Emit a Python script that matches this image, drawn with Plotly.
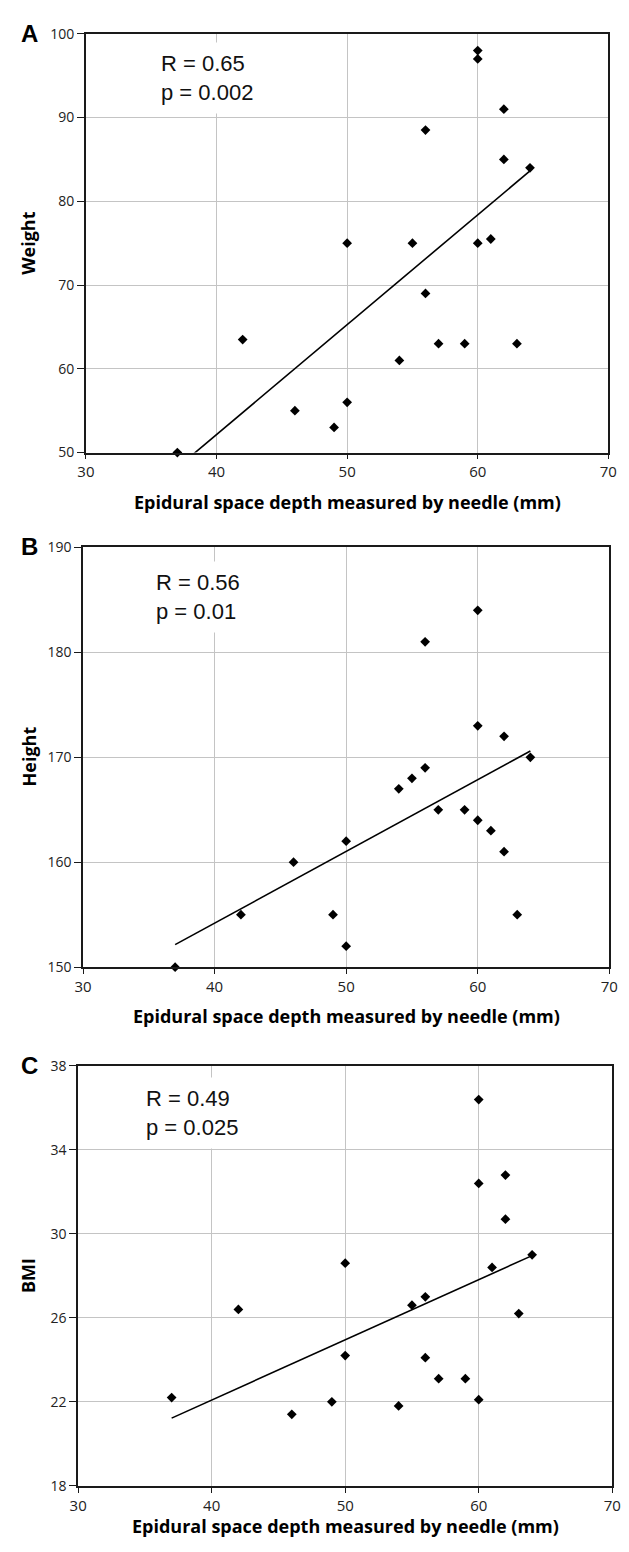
import numpy as np
import plotly.graph_objects as go

# ---------------- data ----------------
depth_mm = [37, 42, 46, 49, 50, 50, 54, 55, 56, 56, 57, 59, 60, 60, 60, 61, 62, 62, 63, 64]
weight = [50, 63.5, 55, 53, 56, 75, 61, 75, 88.5, 69, 63, 63, 98, 97, 75, 75.5, 91, 85, 63, 84]
height = [150, 155, 160, 155, 162, 152, 167, 168, 181, 169, 165, 165, 184, 173, 164, 163, 172, 161, 155, 170]
bmi = [22.2, 26.4, 21.4, 22.0, 28.6, 24.2, 21.8, 26.6, 27.0, 24.1, 23.1, 23.1, 36.4, 32.4, 22.1, 28.4, 32.8, 30.7, 26.2, 29.0]

x_ticks = [30, 40, 50, 60, 70]
weight_ticks = [50, 60, 70, 80, 90, 100]
height_ticks = [150, 160, 170, 180, 190]
bmi_ticks = [18, 22, 26, 30, 34, 38]

panel_letters = ["A", "B", "C"]
y_titles = ["Weight", "Height", "BMI"]
stats_text = ["R = 0.65<br>p = 0.002", "R = 0.56<br>p = 0.01", "R = 0.49<br>p = 0.025"]
x_title = "Epidural space depth measured by needle (mm)"

# ---------------- layout geometry (page pixels) ----------------
PAGE_W, PAGE_H = 629, 1552
OFF = 8  # default page body margin
W, H = PAGE_W - OFF, PAGE_H - OFF
panels = [
    dict(x0=79, x1=617, y0=24, y1=448, ytitle_y=236, xtitle_y=498, box_top=32, text_left=147, letter_y=24),
    dict(x0=76, x1=618, y0=544, y1=969, ytitle_y=756, xtitle_y=1018, box_top=558, text_left=142, letter_y=543),
    dict(x0=71, x1=621, y0=1069, y1=1494, ytitle_y=1281, xtitle_y=1535, box_top=1080, text_left=132, letter_y=1069),
]
series = [weight, height, bmi]
yticks = [weight_ticks, height_ticks, bmi_ticks]


def px_x(p):
    return (p - OFF) / W


def px_y(p):
    return 1 - (p - OFF) / H


fig = go.Figure()
annotations = []
layout_axes = {}

for i, (pan, yvals, yt) in enumerate(zip(panels, series, yticks)):
    n = "" if i == 0 else str(i + 1)
    xa, ya = "x" + n, "y" + n

    # markers
    fig.add_trace(go.Scatter(
        x=depth_mm, y=yvals, mode="markers", xaxis=xa, yaxis=ya,
        marker=dict(symbol="diamond", size=7.5, color="black", line=dict(width=0)),
        cliponaxis=False, showlegend=False, hoverinfo="x+y"))

    # linear trend line (least squares)
    slope, intercept = np.polyfit(depth_mm, yvals, 1)
    xs = [min(depth_mm), max(depth_mm)]
    fig.add_trace(go.Scatter(
        x=xs, y=[slope * v + intercept for v in xs], mode="lines", xaxis=xa, yaxis=ya,
        line=dict(color="black", width=1.6), showlegend=False, hoverinfo="skip"))

    layout_axes["xaxis" + n] = dict(
        domain=[px_x(pan["x0"]), px_x(pan["x1"])], anchor=ya,
        range=[x_ticks[0], x_ticks[-1]], tickvals=x_ticks,
        showgrid=True, gridcolor="#c4c4c4", gridwidth=1,
        showline=True, linecolor="#1a1a1a", linewidth=1.6, mirror=True,
        ticks="outside", ticklen=5, tickcolor="#1a1a1a", tickwidth=1.3,
        tickfont=dict(family="Open Sans", size=15, color="#222222"),
        zeroline=False, fixedrange=True)
    layout_axes["yaxis" + n] = dict(
        domain=[px_y(pan["y1"]), px_y(pan["y0"])], anchor=xa,
        range=[yt[0], yt[-1]], tickvals=yt,
        showgrid=True, gridcolor="#c4c4c4", gridwidth=1,
        showline=True, linecolor="#1a1a1a", linewidth=1.6, mirror=True,
        ticks="outside", ticklen=7, tickcolor="#1a1a1a", tickwidth=1.3,
        tickfont=dict(family="Open Sans", size=14, color="#222222"),
        zeroline=False, fixedrange=True)

    # stats text with white background box
    annotations.append(dict(
        text=stats_text[i], xref="paper", yref="paper",
        x=px_x(pan["text_left"]), y=px_y(pan["box_top"]),
        xanchor="left", yanchor="top", align="left", showarrow=False,
        bgcolor="white", borderpad=8,
        font=dict(family="Liberation Sans, Arial", size=22, color="#111111")))

    # panel letter
    annotations.append(dict(
        text="<b>%s</b>" % panel_letters[i], xref="paper", yref="paper",
        x=px_x(21), y=px_y(pan["letter_y"]), xanchor="center", yanchor="middle",
        showarrow=False, font=dict(family="Liberation Sans, Arial", size=24, color="black")))

    # y title
    annotations.append(dict(
        text="<b>%s</b>" % y_titles[i], xref="paper", yref="paper",
        x=px_x(20), y=px_y(pan["ytitle_y"]), xanchor="center", yanchor="middle",
        textangle=-90, showarrow=False,
        font=dict(family="Open Sans", size=18, color="black")))

    # x title
    annotations.append(dict(
        text="<b>%s</b>" % x_title, xref="paper", yref="paper",
        x=px_x((pan["x0"] + pan["x1"]) / 2), y=px_y(pan["xtitle_y"]),
        xanchor="center", yanchor="middle", showarrow=False,
        font=dict(family="Open Sans", size=18, color="black")))

fig.update_layout(
    width=W, height=H,
    margin=dict(l=0, r=0, t=0, b=0),
    paper_bgcolor="white", plot_bgcolor="white",
    showlegend=False,
    annotations=annotations,
    **layout_axes)

fig.write_html("out.html")
